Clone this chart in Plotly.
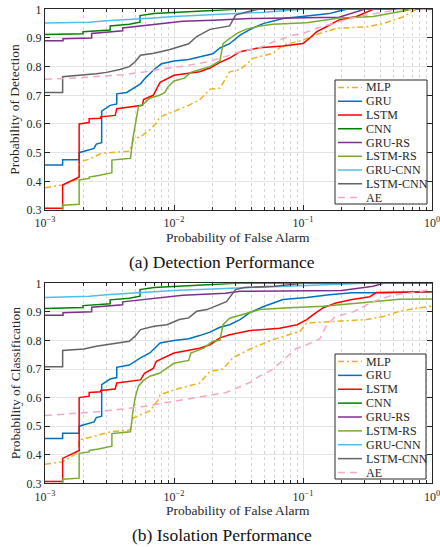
import plotly.graph_objects as go

W, H = 440, 547

SERIES = ["MLP", "GRU", "LSTM", "CNN", "GRU-RS", "LSTM-RS", "GRU-CNN", "LSTM-CNN", "AE"]
COLORS = {
    "MLP": "#EDB120", "GRU": "#0072BD", "LSTM": "#FF0000", "CNN": "#008000",
    "GRU-RS": "#7E2F8E", "LSTM-RS": "#77AC30", "GRU-CNN": "#4DBEEE",
    "LSTM-CNN": "#636363", "AE": "#F7A6CA",
}
DASHES = {"MLP": "6px,3px,2px,3px", "AE": "7px,5px"}

X_TICKS = [1e-3, 1e-2, 1e-1, 1e0]
X_TICK_TEXT = ["10<sup>−3</sup>", "10<sup>−2</sup>", "10<sup>−1</sup>", "10<sup>0</sup>"]
X_MINOR = [m * d for d in (1e-3, 1e-2, 1e-1) for m in range(2, 10)]

# ---------------- (a) Detection performance: (false alarm, detection) ----------------
DET_MLP = [(1e-3, 0.378), (1.37e-3, 0.387), (1.84e-3, 0.41), (1.84e-3, 0.468), (2.2e-3, 0.477),
           (2.75e-3, 0.498), (4.5e-3, 0.505), (4.9e-3, 0.55), (5.5e-3, 0.555), (6.5e-3, 0.58),
           (7.2e-3, 0.60), (7.8e-3, 0.625), (9.9e-3, 0.643), (1.3e-2, 0.665), (1.58e-2, 0.684),
           (1.9e-2, 0.721), (2.27e-2, 0.725), (2.7e-2, 0.782), (3.25e-2, 0.79), (4.1e-2, 0.829),
           (5.85e-2, 0.847), (7e-2, 0.875), (0.1, 0.893), (0.135, 0.916), (0.184, 0.934),
           (0.313, 0.939), (0.417, 0.95), (0.6, 0.974), (0.74, 0.998), (1.0, 1.0)]
DET_GRU = [(1e-3, 0.457), (1.37e-3, 0.457), (1.37e-3, 0.475), (1.84e-3, 0.475), (1.84e-3, 0.50),
           (2.2e-3, 0.51), (2.4e-3, 0.515), (2.5e-3, 0.53), (2.75e-3, 0.535), (2.75e-3, 0.645),
           (3.2e-3, 0.665), (3.6e-3, 0.67), (3.6e-3, 0.705), (4.3e-3, 0.71), (4.7e-3, 0.72),
           (5.5e-3, 0.74), (6.0e-3, 0.76), (7.0e-3, 0.79), (8.0e-3, 0.81), (1.0e-2, 0.82),
           (1.3e-2, 0.825), (1.6e-2, 0.835), (2.0e-2, 0.845), (2.27e-2, 0.865), (2.7e-2, 0.88),
           (3.25e-2, 0.91), (3.9e-2, 0.93), (4.9e-2, 0.95), (7e-2, 0.968), (0.107, 0.977),
           (0.16, 0.985), (0.2, 0.997), (0.22, 1.0), (1.0, 1.0)]
DET_LSTM = [(1e-3, 0.306), (1.37e-3, 0.306), (1.37e-3, 0.387), (1.84e-3, 0.415), (1.84e-3, 0.60),
            (2.2e-3, 0.605), (2.2e-3, 0.618), (2.7e-3, 0.62), (2.7e-3, 0.625), (3.5e-3, 0.63),
            (3.6e-3, 0.653), (4.5e-3, 0.66), (5.7e-3, 0.665), (5.8e-3, 0.685), (6.9e-3, 0.70),
            (7.8e-3, 0.745), (1.0e-2, 0.77), (1.58e-2, 0.782), (1.9e-2, 0.795), (2.27e-2, 0.815),
            (2.7e-2, 0.83), (3.25e-2, 0.852), (4.6e-2, 0.866), (7e-2, 0.872), (0.1, 0.881),
            (0.113, 0.90), (0.128, 0.922), (0.153, 0.94), (0.19, 0.963), (0.26, 0.975),
            (0.31, 0.99), (0.35, 1.0), (1.0, 1.0)]
DET_CNN = [(1e-3, 0.912), (1.97e-3, 0.915), (1.97e-3, 0.922), (3.2e-3, 0.928), (3.2e-3, 0.942),
           (4.5e-3, 0.948), (5.45e-3, 0.955), (5.45e-3, 0.978), (7e-3, 0.985), (1.1e-2, 0.99),
           (1.6e-2, 0.995), (3e-2, 1.0), (1.0, 1.0)]
DET_GRU_RS = [(1e-3, 0.89), (1.38e-3, 0.89), (1.38e-3, 0.897), (2.3e-3, 0.90), (2.3e-3, 0.916),
              (4e-3, 0.925), (4e-3, 0.935), (6.5e-3, 0.945), (1.17e-2, 0.958), (2e-2, 0.962),
              (3.9e-2, 0.968), (0.19, 0.972), (0.25, 0.99), (0.3, 1.0), (1.0, 1.0)]
DET_LSTM_RS = [(1e-3, 0.29), (1.37e-3, 0.29), (1.37e-3, 0.317), (1.84e-3, 0.32), (1.84e-3, 0.405),
               (2.2e-3, 0.41), (2.2e-3, 0.415), (2.6e-3, 0.42), (3.3e-3, 0.43), (3.3e-3, 0.474),
               (4.0e-3, 0.478), (4.6e-3, 0.48), (4.8e-3, 0.55), (5.0e-3, 0.60), (5.3e-3, 0.66),
               (5.8e-3, 0.67), (6.5e-3, 0.69), (7.7e-3, 0.70), (8.5e-3, 0.71), (9.0e-3, 0.73),
               (1.0e-2, 0.75), (1.2e-2, 0.76), (1.35e-2, 0.78), (1.6e-2, 0.79), (1.9e-2, 0.80),
               (2.27e-2, 0.82), (2.4e-2, 0.88), (2.6e-2, 0.893), (3.1e-2, 0.917), (3.6e-2, 0.93),
               (4.6e-2, 0.942), (5.85e-2, 0.948), (0.107, 0.953), (0.19, 0.97), (0.35, 0.975),
               (0.53, 0.99), (0.7, 1.0), (1.0, 1.0)]
DET_GRU_CNN = [(1e-3, 0.952), (2.2e-3, 0.955), (3e-3, 0.96), (5e-3, 0.965), (7e-3, 0.97),
               (1e-2, 0.975), (2e-2, 0.98), (3e-2, 0.985), (5e-2, 0.99), (0.1, 1.0), (1.0, 1.0)]
DET_LSTM_CNN = [(1e-3, 0.71), (1.37e-3, 0.71), (1.37e-3, 0.765), (2e-3, 0.77), (2.5e-3, 0.775),
                (3e-3, 0.78), (3.8e-3, 0.79), (4.5e-3, 0.80), (5e-3, 0.817), (5.5e-3, 0.84),
                (7e-3, 0.847), (9.3e-3, 0.86), (1.3e-2, 0.88), (1.5e-2, 0.905), (1.9e-2, 0.93),
                (2.7e-2, 0.942), (3e-2, 0.98), (3.6e-2, 0.99), (4.5e-2, 1.0), (1.0, 1.0)]
DET_AE = [(1e-3, 0.756), (2e-3, 0.762), (4e-3, 0.772), (6e-3, 0.782), (8e-3, 0.792),
          (1.2e-2, 0.802), (1.6e-2, 0.812), (2e-2, 0.822), (2.5e-2, 0.835), (3.25e-2, 0.852),
          (4.6e-2, 0.866), (5.85e-2, 0.886), (8.4e-2, 0.91), (0.1, 0.916), (0.128, 0.934),
          (0.16, 0.947), (0.217, 0.965), (0.31, 0.98), (0.42, 0.99), (0.56, 1.0), (1.0, 1.0)]

# ---------------- (b) Isolation performance: (false alarm, classification) ----------------
ISO_MLP = [(1e-3, 0.367), (1.37e-3, 0.375), (1.84e-3, 0.41), (1.84e-3, 0.452), (2.2e-3, 0.46),
           (2.67e-3, 0.47), (3.2e-3, 0.48), (4.56e-3, 0.487), (4.8e-3, 0.528), (6.5e-3, 0.553),
           (7.5e-3, 0.59), (7.8e-3, 0.61), (1e-2, 0.627), (1.58e-2, 0.651), (1.9e-2, 0.692),
           (2.4e-2, 0.70), (2.86e-2, 0.739), (3.9e-2, 0.77), (5.85e-2, 0.803), (9.5e-2, 0.832),
           (0.107, 0.861), (0.18, 0.867), (0.31, 0.873), (0.42, 0.884), (0.56, 0.902),
           (0.76, 0.913), (1.0, 0.92)]
ISO_GRU = [(1e-3, 0.457), (1.37e-3, 0.457), (1.37e-3, 0.475), (1.84e-3, 0.475), (1.84e-3, 0.50),
           (2.2e-3, 0.51), (2.4e-3, 0.515), (2.5e-3, 0.53), (2.75e-3, 0.535), (2.75e-3, 0.645),
           (3.2e-3, 0.665), (3.6e-3, 0.67), (3.6e-3, 0.706), (4.5e-3, 0.714), (5.5e-3, 0.739),
           (6.5e-3, 0.756), (7.8e-3, 0.791), (1e-2, 0.80), (1.3e-2, 0.806), (1.58e-2, 0.817),
           (1.9e-2, 0.829), (2.27e-2, 0.846), (2.7e-2, 0.855), (3.25e-2, 0.873), (3.9e-2, 0.898),
           (4.9e-2, 0.918), (7e-2, 0.943), (0.107, 0.95), (0.16, 0.96), (0.24, 0.967),
           (0.42, 0.967), (1.0, 0.97)]
ISO_LSTM = [(1e-3, 0.306), (1.37e-3, 0.306), (1.37e-3, 0.387), (1.84e-3, 0.415), (1.84e-3, 0.60),
            (2.2e-3, 0.605), (2.2e-3, 0.618), (2.7e-3, 0.62), (2.7e-3, 0.625), (3.5e-3, 0.63),
            (3.6e-3, 0.651), (5.5e-3, 0.662), (5.9e-3, 0.685), (6.9e-3, 0.702), (7.3e-3, 0.727),
            (1e-2, 0.756), (1.58e-2, 0.773), (1.9e-2, 0.785), (2.27e-2, 0.809), (2.7e-2, 0.82),
            (3.9e-2, 0.835), (6.6e-2, 0.843), (9e-2, 0.855), (0.107, 0.873), (0.12, 0.89),
            (0.143, 0.914), (0.18, 0.931), (0.24, 0.943), (0.33, 0.953), (0.37, 0.968),
            (1.0, 0.97)]
ISO_CNN = [(1e-3, 0.912), (1.97e-3, 0.915), (1.97e-3, 0.922), (3.2e-3, 0.928), (3.2e-3, 0.942),
           (4.5e-3, 0.948), (5.45e-3, 0.955), (5.45e-3, 0.978), (7e-3, 0.985), (1.1e-2, 0.99),
           (1.6e-2, 0.995), (3e-2, 1.0), (1.0, 1.0)]
ISO_GRU_RS = [(1e-3, 0.888), (1.38e-3, 0.888), (1.38e-3, 0.897), (2.3e-3, 0.90), (2.3e-3, 0.916),
              (4e-3, 0.925), (4e-3, 0.935), (6.5e-3, 0.945), (1.17e-2, 0.958), (2.5e-2, 0.965),
              (3.25e-2, 0.972), (0.2, 0.975), (0.35, 0.99), (0.42, 1.0), (1.0, 1.0)]
ISO_LSTM_RS = [(1e-3, 0.29), (1.37e-3, 0.29), (1.37e-3, 0.314), (1.84e-3, 0.318), (1.84e-3, 0.405),
               (2.2e-3, 0.41), (2.2e-3, 0.415), (2.6e-3, 0.42), (3.3e-3, 0.43), (3.3e-3, 0.474),
               (4.0e-3, 0.478), (4.6e-3, 0.48), (4.8e-3, 0.55), (5.0e-3, 0.60), (5.3e-3, 0.64),
               (5.8e-3, 0.66), (6.5e-3, 0.675), (7.7e-3, 0.685), (8.8e-3, 0.703), (1e-2, 0.72),
               (1.3e-2, 0.73), (1.35e-2, 0.756), (1.7e-2, 0.773), (2e-2, 0.797), (2.27e-2, 0.80),
               (2.4e-2, 0.855), (2.7e-2, 0.878), (3.9e-2, 0.897), (4.6e-2, 0.908), (7.8e-2, 0.914),
               (0.143, 0.92), (0.26, 0.93), (0.42, 0.938), (0.56, 0.944), (1.0, 0.945)]
ISO_GRU_CNN = [(1e-3, 0.95), (2.2e-3, 0.955), (3e-3, 0.96), (5e-3, 0.965), (7e-3, 0.97),
               (1e-2, 0.975), (2e-2, 0.98), (3e-2, 0.985), (6e-2, 0.99), (0.15, 0.995),
               (0.3, 1.0), (1.0, 1.0)]
ISO_LSTM_CNN = [(1e-3, 0.708), (1.37e-3, 0.708), (1.37e-3, 0.765), (2e-3, 0.77), (2.5e-3, 0.78),
                (3e-3, 0.785), (3.8e-3, 0.791), (4.5e-3, 0.797), (5e-3, 0.815), (5.5e-3, 0.838),
                (7e-3, 0.85), (8.8e-3, 0.855), (1.1e-2, 0.873), (1.3e-2, 0.879), (1.5e-2, 0.902),
                (1.8e-2, 0.908), (2.55e-2, 0.936), (3e-2, 0.978), (3.5e-2, 0.985), (6e-2, 0.99),
                (0.1, 1.0), (1.0, 1.0)]
ISO_AE = [(1e-3, 0.537), (2.5e-3, 0.55), (4e-3, 0.56), (6e-3, 0.57), (8e-3, 0.58),
          (1.1e-2, 0.59), (1.5e-2, 0.60), (2e-2, 0.61), (2.5e-2, 0.617), (3.25e-2, 0.638),
          (4e-2, 0.656), (4.6e-2, 0.675), (5.7e-2, 0.696), (6.8e-2, 0.726), (8.9e-2, 0.772),
          (0.107, 0.785), (0.135, 0.805), (0.15, 0.848), (0.177, 0.883), (0.245, 0.90),
          (0.35, 0.936), (0.5, 0.959), (0.8, 0.97), (1.0, 0.98)]

DET = dict(zip(SERIES, [DET_MLP, DET_GRU, DET_LSTM, DET_CNN, DET_GRU_RS, DET_LSTM_RS,
                        DET_GRU_CNN, DET_LSTM_CNN, DET_AE]))
ISO = dict(zip(SERIES, [ISO_MLP, ISO_GRU, ISO_LSTM, ISO_CNN, ISO_GRU_RS, ISO_LSTM_RS,
                        ISO_GRU_CNN, ISO_LSTM_CNN, ISO_AE]))

PANELS = [
    dict(data=DET, ax="", ytitle="Probability of Detection", caption="(a) Detection Performance",
         top=9.3, bottom=210.0, legend=(335, 80, 427, 204)),
    dict(data=ISO, ax="2", ytitle="Probability of Classification", caption="(b) Isolation Performance",
         top=283.3, bottom=483.3, legend=(335, 354, 426, 479)),
]
PLOT_LEFT, PLOT_RIGHT = 45.0, 432.0

SERIF = "Liberation Serif, Times New Roman, serif"
AXC = "#262626"


def px(x):
    return x / W


def py(y):
    return 1 - y / H


fig = go.Figure()
shapes, annotations = [], []
layout_axes = {}

for panel in PANELS:
    ax = panel["ax"]
    for name in SERIES:
        pts = panel["data"][name]
        fig.add_trace(go.Scatter(
            x=[p[0] for p in pts], y=[p[1] for p in pts], mode="lines", name=name,
            line=dict(color=COLORS[name], width=1.5, dash=DASHES.get(name, "solid")),
            xaxis="x" + ax, yaxis="y" + ax, showlegend=False, hoverinfo="skip",
        ))
    layout_axes["xaxis" + ax] = dict(
        domain=[px(PLOT_LEFT), px(PLOT_RIGHT)], anchor="y" + ax, type="log", range=[-3, 0],
        tickvals=X_TICKS, ticktext=X_TICK_TEXT, ticks="inside", ticklen=5, tickcolor=AXC,
        showgrid=True, gridcolor="#e3e3e3", gridwidth=1, automargin=False,
        minor=dict(tickvals=X_MINOR, ticks="inside", ticklen=3, tickcolor=AXC,
                   showgrid=True, gridcolor="#d6d6d6", griddash="dot", gridwidth=1),
        showline=True, linecolor=AXC, linewidth=1, mirror="ticks",
        tickfont=dict(family=SERIF, size=12, color=AXC), zeroline=False,
        ticklabelstandoff=2, ticklabeloverflow="allow",
    )
    layout_axes["yaxis" + ax] = dict(
        domain=[py(panel["bottom"]), py(panel["top"])], anchor="x" + ax, range=[0.3, 1.0],
        tick0=0.3, dtick=0.1, ticks="inside", ticklen=5, tickcolor=AXC,
        showgrid=True, gridcolor="#e3e3e3", gridwidth=1, automargin=False,
        showline=True, linecolor=AXC, linewidth=1, mirror="ticks",
        tickfont=dict(family=SERIF, size=12, color=AXC), zeroline=False,
        ticklabeloverflow="allow",
    )
    # axis titles and caption
    annotations.append(dict(text="Probability of False Alarm", xref="paper", yref="paper",
                            x=px((PLOT_LEFT + PLOT_RIGHT) / 2), y=py(panel["bottom"] + 27),
                            xanchor="center", yanchor="middle", showarrow=False,
                            font=dict(family=SERIF, size=13.5, color=AXC)))
    annotations.append(dict(text=panel["ytitle"], xref="paper", yref="paper",
                            x=px(15), y=py((panel["top"] + panel["bottom"]) / 2), textangle=-90,
                            xanchor="center", yanchor="middle", showarrow=False,
                            font=dict(family=SERIF, size=13.5, color=AXC)))
    annotations.append(dict(text=panel["caption"], xref="paper", yref="paper",
                            x=px(222), y=py(panel["bottom"] + 52),
                            xanchor="center", yanchor="middle", showarrow=False,
                            font=dict(family=SERIF, size=17.5, color="#111111")))
    # legend box
    lx0, ly0, lx1, ly1 = panel["legend"]
    shapes.append(dict(type="rect", xref="paper", yref="paper", x0=px(lx0), x1=px(lx1),
                       y0=py(ly1), y1=py(ly0), fillcolor="white",
                       line=dict(color=AXC, width=1), layer="above"))
    step = (ly1 - ly0 - 14) / (len(SERIES) - 1)
    for i, name in enumerate(SERIES):
        yy = ly0 + 7.5 + i * step
        shapes.append(dict(type="line", xref="paper", yref="paper", x0=px(lx0 + 3), x1=px(lx0 + 27),
                           y0=py(yy), y1=py(yy), layer="above",
                           line=dict(color=COLORS[name], width=1.5, dash=DASHES.get(name, "solid"))))
        annotations.append(dict(text=name, xref="paper", yref="paper", x=px(lx0 + 29), y=py(yy),
                                xanchor="left", yanchor="middle", showarrow=False,
                                font=dict(family=SERIF, size=12, color=AXC)))

fig.update_layout(
    width=W, height=H, margin=dict(l=0, r=0, t=0, b=0, pad=0), autosize=False,
    paper_bgcolor="white", plot_bgcolor="white", showlegend=False,
    shapes=shapes, annotations=annotations, **layout_axes,
)

fig.write_html(
    "out.html", config={"responsive": False, "displayModeBar": False},
    post_script="document.body.style.margin='0';document.body.style.padding='0';"
                "document.documentElement.style.overflow='hidden';",
)
